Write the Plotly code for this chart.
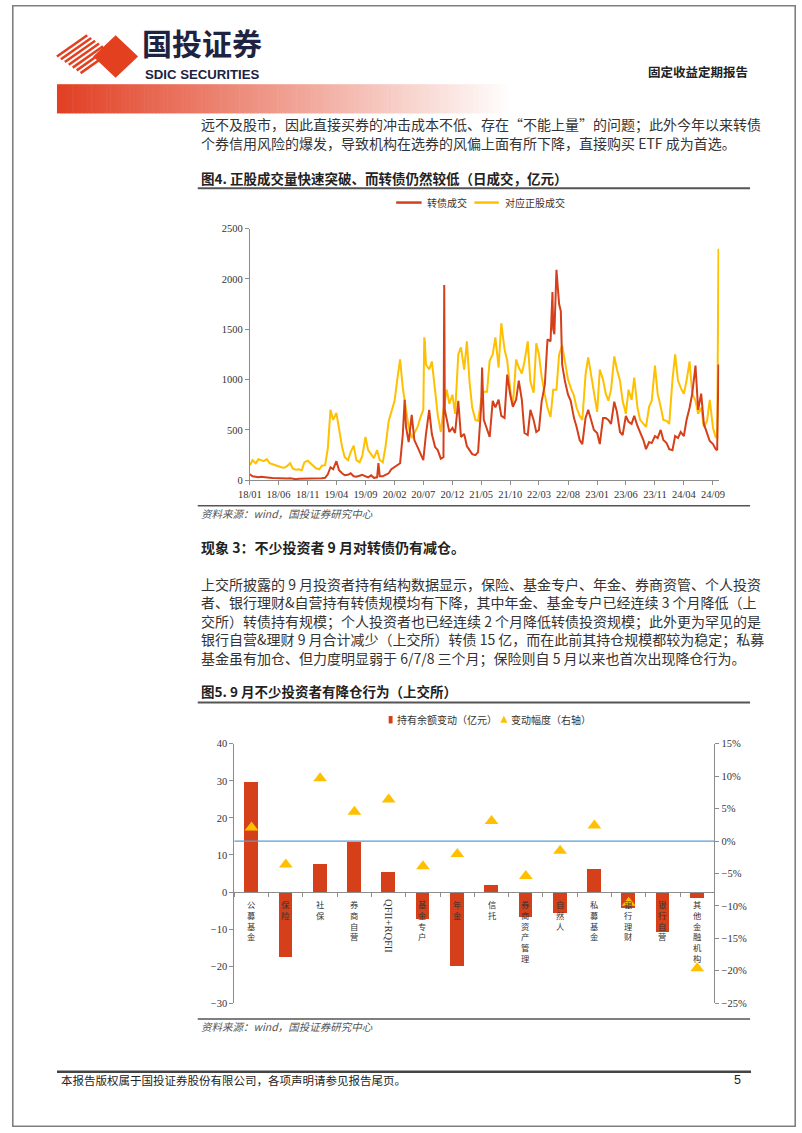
import plotly.graph_objects as go
import pandas as pd

W, H = 802, 1133


def fx(x):
    return x / W


def fy(y):
    return 1 - y / H


# ---------------- Figure 4 data (daily turnover, 100m CNY) ----------------
tick_labels_4 = ["18/01", "18/06", "18/11", "19/04", "19/09", "20/02", "20/07", "20/12",
                 "21/05", "21/10", "22/03", "22/08", "23/01", "23/06", "23/11", "24/04", "24/09"]
sample_start = "2018-01-01"
sample_end = "2024-09-15"   # semi-monthly sampling grid (1st and 15th)

cb_turnover = [
    60, 40, 35, 30, 35, 30, 30, 25, 22, 20, 20, 18, 15, 18, 20, 15, 12, 15, 15, 20, 22, 20, 18, 15,
    15, 20, 25, 60, 130, 110, 190, 100, 70, 50, 55, 70, 40, 35, 45, 55, 40, 30, 50, 25, 30, 40, 40, 55,
    70, 110, 130, 150, 170, 450, 530, 380, 650, 400, 330, 270, 200, 460, 700, 460, 330, 300, 215, 230, 600, 480, 520, 470,
    790, 430, 460, 340, 300, 260, 250, 280, 725, 600, 500, 430, 790, 725, 800, 640, 620, 1050, 850, 730, 800, 990, 800, 470,
    450, 700, 600, 480, 500, 780, 950, 1400, 1380, 1500, 2090, 1750, 1150, 990, 850, 790, 620, 530, 400, 360, 620, 700, 600, 500,
    470, 360, 620, 620, 600, 560, 780, 680, 480, 450, 640, 580, 560, 640, 540, 480, 400, 310, 380, 370, 440, 420, 500, 400,
    370, 310, 300, 440, 420, 480, 440, 600, 720, 860, 1140, 700, 860, 560, 470, 390, 360, 310,
]
stock_turnover = [
    150, 200, 170, 210, 200, 190, 210, 170, 160, 150, 140, 130, 125, 140, 170, 115, 105, 110, 100, 180, 195, 170, 150, 120,
    110, 145, 150, 320, 700, 600, 670, 500, 330, 230, 200, 280, 345, 200, 180, 240, 430, 300, 260, 220, 300, 200, 180, 330,
    590, 690, 790, 1000, 1200, 920, 700, 530, 420, 470, 530, 620, 700, 1150, 1100, 1180, 850, 650, 480, 700, 900, 760, 850, 660,
    1250, 1320, 1100, 1380, 980, 725, 600, 590, 800, 880, 880, 1190, 1250, 1420, 1120, 1560, 1300, 1190, 900, 740, 1200, 1120, 1060, 1180,
    1380, 980, 870, 1360, 1250, 1030, 850, 720, 630, 900, 900, 1250, 1340, 1200, 1000, 920, 840, 720, 640, 600, 1050, 1220, 1050, 900,
    680, 1100, 1000, 860, 790, 900, 1230, 1100, 990, 790, 660, 900, 800, 1020, 720, 600, 560, 530, 730, 790, 1140, 860, 730, 600,
    590, 560, 1000, 1250, 990, 920, 860, 990, 1180, 860, 790, 660, 720, 530, 590, 800, 520, 430,
]
# spikes between grid dates
cb_extra_dates = ["2019-11-08", "2020-03-25", "2020-10-19", "2020-10-22", "2021-05-06",
                  "2022-05-11", "2022-05-21", "2022-06-24", "2022-06-28", "2024-09-23", "2024-09-30"]
cb_extra_vals = [170, 800, 1940, 700, 1120, 1870, 1450, 1680, 1480, 300, 1150]
stock_extra_dates = ["2020-07-06", "2020-07-09", "2024-09-23", "2024-09-30"]
stock_extra_vals = [1420, 1380, 420, 2300]

# ---------------- Figure 5 data ----------------
categories = ["公募基金", "保险", "社保", "券商自营", "QFII+RQFII", "基金专户", "年金", "信托",
              "券商资产管理", "自然人", "私募基金", "银行理财", "银行自营", "其他金融机构"]
holding_change = [29.8, -17.5, 7.5, 13.5, 5.4, -7.3, -19.9, 1.9, -6.6, -5.5, 6.2, -4.2, -10.8, -1.6]
change_pct = [2.1, -3.6, 9.7, 4.5, 6.4, -3.9, -2.0, 3.1, -5.4, -1.5, 2.4, -9.5, None, -19.6]

# ---------------- build series ----------------
grid = pd.date_range(sample_start, sample_end, freq="SMS")
cb = pd.concat([pd.Series(cb_turnover, index=grid),
                pd.Series(cb_extra_vals, index=pd.to_datetime(cb_extra_dates))]).sort_index()
stk = pd.concat([pd.Series(stock_turnover, index=grid),
                 pd.Series(stock_extra_vals, index=pd.to_datetime(stock_extra_dates))]).sort_index()

RED = "#D5401A"
YEL = "#FFC000"
AX = "#8c8c8c"
TXT = "#333333"
CJK = "Noto Sans CJK SC"
SERIF = "Liberation Serif"

fig = go.Figure()
fig.add_trace(go.Scatter(x=stk.index, y=stk.values, mode="lines", line=dict(color=YEL, width=2),
                         xaxis="x", yaxis="y", showlegend=False, name="对应正股成交"))
fig.add_trace(go.Scatter(x=cb.index, y=cb.values, mode="lines", line=dict(color=RED, width=2),
                         xaxis="x", yaxis="y", showlegend=False, name="转债成交"))
fig.add_trace(go.Bar(x=categories, y=holding_change, marker=dict(color=RED, line=dict(width=0)),
                     width=0.4, xaxis="x2", yaxis="y2", showlegend=False, name="持有余额变动（亿元）"))
fig.add_trace(go.Scatter(x=categories, y=change_pct, mode="markers",
                         marker=dict(symbol="triangle-up", size=12, color=YEL),
                         xaxis="x2", yaxis="y3", showlegend=False, name="变动幅度（右轴）"))

tickvals_4 = ["20" + t.replace("/", "-") + "-01" for t in tick_labels_4]

axis_common = dict(showgrid=False, zeroline=False, showline=True, linecolor=AX, linewidth=1,
                   ticks="outside", ticklen=4, tickcolor=AX, tickwidth=1)

fig.update_layout(
    width=W, height=H, margin=dict(l=0, r=0, t=0, b=0),
    paper_bgcolor="white", plot_bgcolor="rgba(0,0,0,0)", showlegend=False,
    bargap=0,
    xaxis=dict(domain=[fx(243.3), fx(723.5)], type="date", range=["2018-01-01", "2024-10-04"],
               tickvals=tickvals_4, ticktext=tick_labels_4, anchor="y",
               tickfont=dict(family=SERIF, size=10.5, color=TXT), **axis_common),
    yaxis=dict(domain=[fy(480), fy(225.7)], range=[0, 2500], dtick=500, anchor="x",
               tickfont=dict(family=SERIF, size=10.5, color=TXT), **axis_common),
    xaxis2=dict(domain=[fx(227.5), fx(718.5)], type="category", range=[-0.5, 13.5],
                anchor="free", position=fy(896), showticklabels=False, tickson="boundaries",
                **axis_common),
    yaxis2=dict(domain=[fy(1008), fy(746)], range=[-30, 40], dtick=10, anchor="x2",
                tickfont=dict(family=SERIF, size=10.5, color=TXT), **axis_common),
    yaxis3=dict(domain=[fy(1008), fy(746)], range=[-25, 15], dtick=5, ticksuffix="%",
                overlaying="y2", side="right", anchor="x2",
                tickfont=dict(family=SERIF, size=10.5, color=TXT), **axis_common),
)

shapes = []
annotations = []


def text(x, y, s, size=14, color=TXT, family=CJK, xanchor="left", yanchor="middle", angle=0):
    annotations.append(dict(x=fx(x), y=fy(y), xref="paper", yref="paper", text=s, showarrow=False,
                            xanchor=xanchor, yanchor=yanchor, textangle=angle,
                            font=dict(family=family, size=size, color=color)))


def hline(x0, x1, y, color="#444444", width=1.5):
    shapes.append(dict(type="line", xref="paper", yref="paper", x0=fx(x0), x1=fx(x1),
                       y0=fy(y), y1=fy(y), line=dict(color=color, width=width)))


# page border
shapes.append(dict(type="rect", xref="paper", yref="paper", x0=fx(0.8), x1=fx(801.2), y0=fy(1132.2),
                   y1=fy(0.8), line=dict(color="#7f7f7f", width=1.6)))

# ---- header logo ----
LOGO_RED = "#E2401F"
cx, cy, a, b = 77, 52, 31, 21.5
for k in range(7):
    c = -1 + k * 0.26
    u1, v1 = (c - 1) / 2, (c + 1) / 2
    u2, v2 = (c + 1) / 2, (c - 1) / 2
    shapes.append(dict(type="line", xref="paper", yref="paper",
                       x0=fx(cx + u1 * a), y0=fy(cy + v1 * b), x1=fx(cx + u2 * a), y1=fy(cy + v2 * b),
                       line=dict(color=LOGO_RED, width=2.6)))
dm = [(106, 30.5), (129, 52), (106, 73.5), (83, 52)]
shapes.append(dict(type="path", xref="paper", yref="paper",
                   path="M " + " L ".join(f"{fx(p[0])},{fy(p[1])}" for p in dm) + " Z",
                   fillcolor=LOGO_RED, line=dict(width=0)))
text(131, 61.5, "<b>国投证券</b>", size=30, color="#1d2340", yanchor="bottom")
text(134, 60.5, "<b>SDIC SECURITIES</b>", size=13.2, color="#1d2340", family="Liberation Sans",
     yanchor="top")
text(755, 67, "<b>固定收益定期报告</b>", size=12.5, color="#222222", xanchor="right")

# gradient band
n = 120
x_start, x_end = 46, 512
for i in range(n):
    t = i / (n - 1)
    r = int(226 + (255 - 226) * t)
    g = int(64 + (255 - 64) * t)
    bb = int(36 + (255 - 36) * t)
    xa = x_start + (x_end - x_start) * i / n
    xb = x_start + (x_end - x_start) * (i + 1) / n + 0.6
    shapes.append(dict(type="rect", xref="paper", yref="paper", x0=fx(xa), x1=fx(xb),
                       y0=fy(109.5), y1=fy(80), fillcolor=f"rgb({r},{g},{bb})", line=dict(width=0),
                       layer="below"))

# ---- body text ----
text(191, 120, "远不及股市，因此直接买券的冲击成本不低、存在“不能上量”的问题；此外今年以来转债")
text(191, 139, "个券信用风险的爆发，导致机构在选券的风偏上面有所下降，直接购买 ETF 成为首选。")

text(191, 175, "<b>图4. 正股成交量快速突破、而转债仍然较低（日成交，亿元）</b>", size=13.5, color="#222222")
hline(190, 755, 185, color="#555555", width=2)

# legend fig 4
hline(393, 419, 199.5, color=RED, width=2.5)
text(422, 199.5, "转债成交", size=10)
hline(473, 498, 199.5, color=YEL, width=2.5)
text(502, 199.5, "对应正股成交", size=10)

hline(190, 755, 505.7, color="#555555", width=1.5)
text(191, 513.5, "<i>资料来源：wind，国投证券研究中心</i>", size=10.5, color="#555555")

text(191, 547.5, "<b>现象 3：不少投资者 9 月对转债仍有减仓。</b>", size=14, color="#222222")
para = [
    "上交所披露的 9 月投资者持有结构数据显示，保险、基金专户、年金、券商资管、个人投资",
    "者、银行理财&自营持有转债规模均有下降，其中年金、基金专户已经连续 3 个月降低（上",
    "交所）转债持有规模；个人投资者也已经连续 2 个月降低转债投资规模；此外更为罕见的是",
    "银行自营&理财 9 月合计减少（上交所）转债 15 亿，而在此前其持仓规模都较为稳定；私募",
    "基金虽有加仓、但力度明显弱于 6/7/8 三个月；保险则自 5 月以来也首次出现降仓行为。",
]
for i, line in enumerate(para):
    text(191, 584.5 + i * 18.6, line)

text(191, 693, "<b>图5. 9 月不少投资者有降仓行为（上交所）</b>", size=13.5, color="#222222")
hline(190, 755, 704.3, color="#555555", width=2)

# legend fig 5
shapes.append(dict(type="rect", xref="paper", yref="paper", x0=fx(385.3), x1=fx(389.3),
                   y0=fy(725.5), y1=fy(718), fillcolor=RED, line=dict(width=0)))
text(392, 721.7, "持有余额变动（亿元）", size=10)
tri = [(503.2, 717.8), (506.8, 724.8), (499.6, 724.8)]
shapes.append(dict(type="path", xref="paper", yref="paper",
                   path="M " + " L ".join(f"{fx(p[0])},{fy(p[1])}" for p in tri) + " Z",
                   fillcolor=YEL, line=dict(width=0)))
text(508, 721.7, "变动幅度（右轴）", size=10)

# blue 0% line of right axis
shapes.append(dict(type="line", xref="x2 domain", yref="y3", x0=0, x1=1, y0=0, y1=0,
                   line=dict(color="#5B9BD5", width=1.3)))

# vertical category labels (stacked characters)
for cat in categories:
    if cat.isascii():
        annotations.append(dict(x=cat, y=fy(900.5), xref="x2", yref="paper", text=cat, showarrow=False,
                                textangle=90, xanchor="center", yanchor="top",
                                font=dict(family=SERIF, size=10.5, color=TXT)))
    else:
        annotations.append(dict(x=cat, y=fy(899.5), xref="x2", yref="paper", text="<br>".join(cat),
                                showarrow=False, xanchor="center", yanchor="top",
                                font=dict(family=CJK, size=8.3, color=TXT)))

hline(190, 755, 1024, color="#555555", width=1.5)
text(191, 1031.7, "<i>资料来源：wind，国投证券研究中心</i>", size=10.5, color="#555555")

# footer
hline(46, 756, 1077.3, color="#444444", width=2.5)
text(48, 1085.5, "本报告版权属于国投证券股份有限公司，各项声明请参见报告尾页。", size=11.5, color="#222222")
text(742, 1085.5, "5", size=12.5, color="#222222", family="Liberation Sans", xanchor="center")

fig.update_layout(shapes=shapes, annotations=annotations)
fig.write_html("out.html", config={"displayModeBar": False},
               post_script="document.body.style.margin='0px';document.body.style.overflow='hidden';")
